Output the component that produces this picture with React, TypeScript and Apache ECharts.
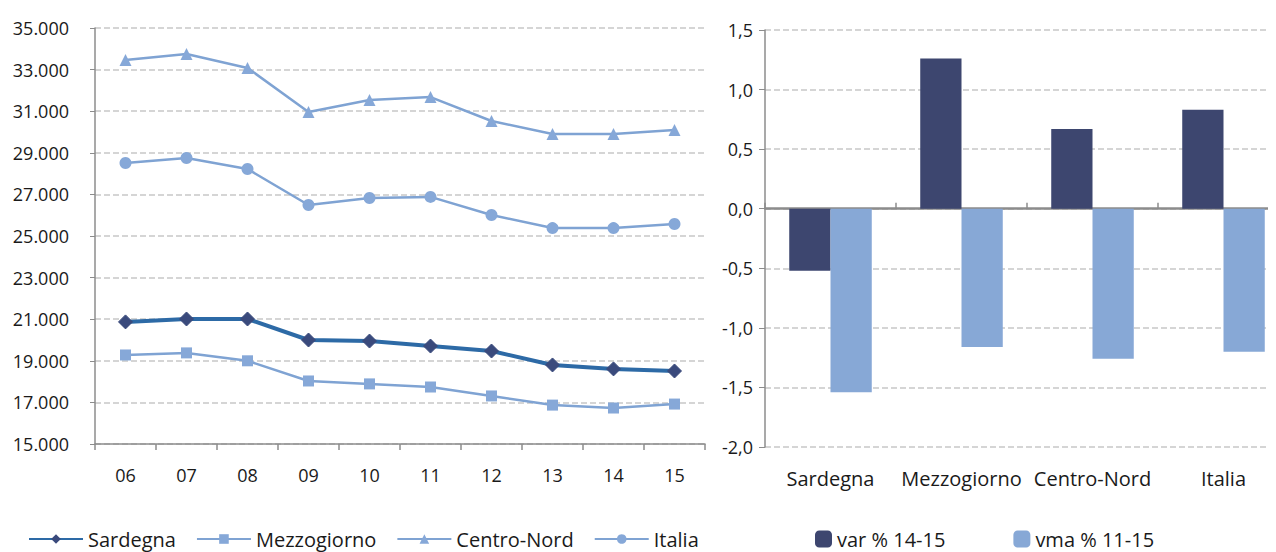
import React, { useEffect, useRef } from "react";
import * as echarts from "echarts";

const years = ["06", "07", "08", "09", "10", "11", "12", "13", "14", "15"];
const sardegna = [20870, 21010, 21010, 20000, 19950, 19710, 19470, 18800, 18610, 18510];
const mezzogiorno = [19280, 19380, 19000, 18030, 17890, 17740, 17310, 16870, 16730, 16920];
const centroNord = [33460, 33750, 33080, 30960, 31540, 31680, 30530, 29900, 29900, 30100];
const italia = [28510, 28750, 28220, 26490, 26830, 26880, 26010, 25380, 25380, 25580];

const areas = ["Sardegna", "Mezzogiorno", "Centro-Nord", "Italia"];
const var1415 = [-0.52, 1.26, 0.67, 0.83];
const vma1115 = [-1.54, -1.16, -1.26, -1.2];

const FONT = "Open Sans";
const LIGHT = "#7FA3D3";
const LIGHT_M = "#86A8D8";

export default function App() {
  const ref = useRef<HTMLDivElement>(null);
  useEffect(() => {
    if (!ref.current) return;
    const chart = echarts.init(ref.current, null, { renderer: "svg" });
    const split = { show: true, lineStyle: { type: "dashed", color: "#C8C8C8", width: 1.5 } };
    const axisLine = { show: true, lineStyle: { color: "#8C8C8C", width: 1.5 } };
    const label = { color: "#1a1a1a", fontFamily: FONT, fontSize: 18 };
    chart.setOption({
      animation: false,
      textStyle: { fontFamily: FONT },
      grid: [
        { left: 87, top: 20, width: 610, height: 416 },
        { left: 757, top: 22, width: 524, height: 417 },
      ],
      legend: [
        {
          left: 15,
          top: 516,
          itemWidth: 54,
          itemHeight: 12,
          itemGap: 20,
          textStyle: { fontFamily: FONT, fontSize: 20, color: "#1a1a1a" },
          data: ["Sardegna", "Mezzogiorno", "Centro-Nord", "Italia"],
        },
        {
          left: 802,
          top: 516,
          itemWidth: 17,
          itemHeight: 17,
          itemGap: 68,
          textStyle: { fontFamily: FONT, fontSize: 20, color: "#1a1a1a" },
          data: ["var % 14-15", "vma % 11-15"],
        },
      ],
      xAxis: [
        {
          type: "category",
          gridIndex: 0,
          data: years,
          axisLine,
          axisTick: { show: true, length: 6, lineStyle: { color: "#8C8C8C", width: 1.5 } },
          axisLabel: { ...label, margin: 22 },
        },
        {
          type: "category",
          gridIndex: 1,
          data: areas,
          position: "bottom",
          axisLine: { show: false, onZero: false },
          axisTick: { show: false },
          axisLabel: { ...label, margin: 21, fontSize: 20, interval: 0 },
        },
        {
          type: "category",
          gridIndex: 1,
          data: areas,
          axisLine: { show: true, onZero: true, lineStyle: { color: "#8C8C8C", width: 2.5 } },
          axisTick: { show: true, length: 6, lineStyle: { color: "#8C8C8C", width: 1.5 } },
          axisLabel: { show: false },
        },
      ],
      yAxis: [
        {
          type: "value",
          gridIndex: 0,
          min: 15000,
          max: 35000,
          interval: 2000,
          axisLine,
          axisTick: { show: true, length: 5, lineStyle: { color: "#8C8C8C" } },
          splitLine: split,
          axisLabel: { ...label, margin: 26, formatter: (v: number) => (v / 1000).toFixed(3) },
        },
        {
          type: "value",
          gridIndex: 1,
          min: -2,
          max: 1.5,
          interval: 0.5,
          axisLine,
          axisTick: { show: true, length: 6, lineStyle: { color: "#8C8C8C" } },
          splitLine: split,
          axisLabel: { ...label, margin: 12, formatter: (v: number) => v.toFixed(1).replace(".", ",") },
        },
      ],
      series: [
        {
          name: "Sardegna",
          type: "line",
          xAxisIndex: 0,
          yAxisIndex: 0,
          data: sardegna,
          symbol: "diamond",
          symbolSize: 14,
          lineStyle: { color: "#2D6AA6", width: 4 },
          itemStyle: { color: "#3A4A7C", borderColor: "#3A4A7C" },
          z: 5,
        },
        {
          name: "Mezzogiorno",
          type: "line",
          xAxisIndex: 0,
          yAxisIndex: 0,
          data: mezzogiorno,
          symbol: "rect",
          symbolSize: 11,
          lineStyle: { color: LIGHT, width: 2.5 },
          itemStyle: { color: LIGHT_M },
        },
        {
          name: "Centro-Nord",
          type: "line",
          xAxisIndex: 0,
          yAxisIndex: 0,
          data: centroNord,
          symbol: "triangle",
          symbolSize: 12,
          lineStyle: { color: LIGHT, width: 2.5 },
          itemStyle: { color: LIGHT_M },
        },
        {
          name: "Italia",
          type: "line",
          xAxisIndex: 0,
          yAxisIndex: 0,
          data: italia,
          symbol: "circle",
          symbolSize: 12,
          lineStyle: { color: LIGHT, width: 2.5 },
          itemStyle: { color: LIGHT_M },
        },
        {
          name: "var % 14-15",
          type: "bar",
          xAxisIndex: 1,
          yAxisIndex: 1,
          data: var1415,
          barGap: "0%",
          barCategoryGap: "37%",
          itemStyle: { color: "#3D466F" },
        },
        {
          name: "vma % 11-15",
          type: "bar",
          xAxisIndex: 1,
          yAxisIndex: 1,
          data: vma1115,
          barGap: "0%",
          barCategoryGap: "37%",
          itemStyle: { color: "#87A8D6" },
        },
      ],
    });
    return () => chart.dispose();
  }, []);
  return (
    <div style={{ width: 1260, height: 544, overflow: "hidden" }}>
      <div ref={ref} style={{ width: 1300, height: 544 }} />
    </div>
  );
}
